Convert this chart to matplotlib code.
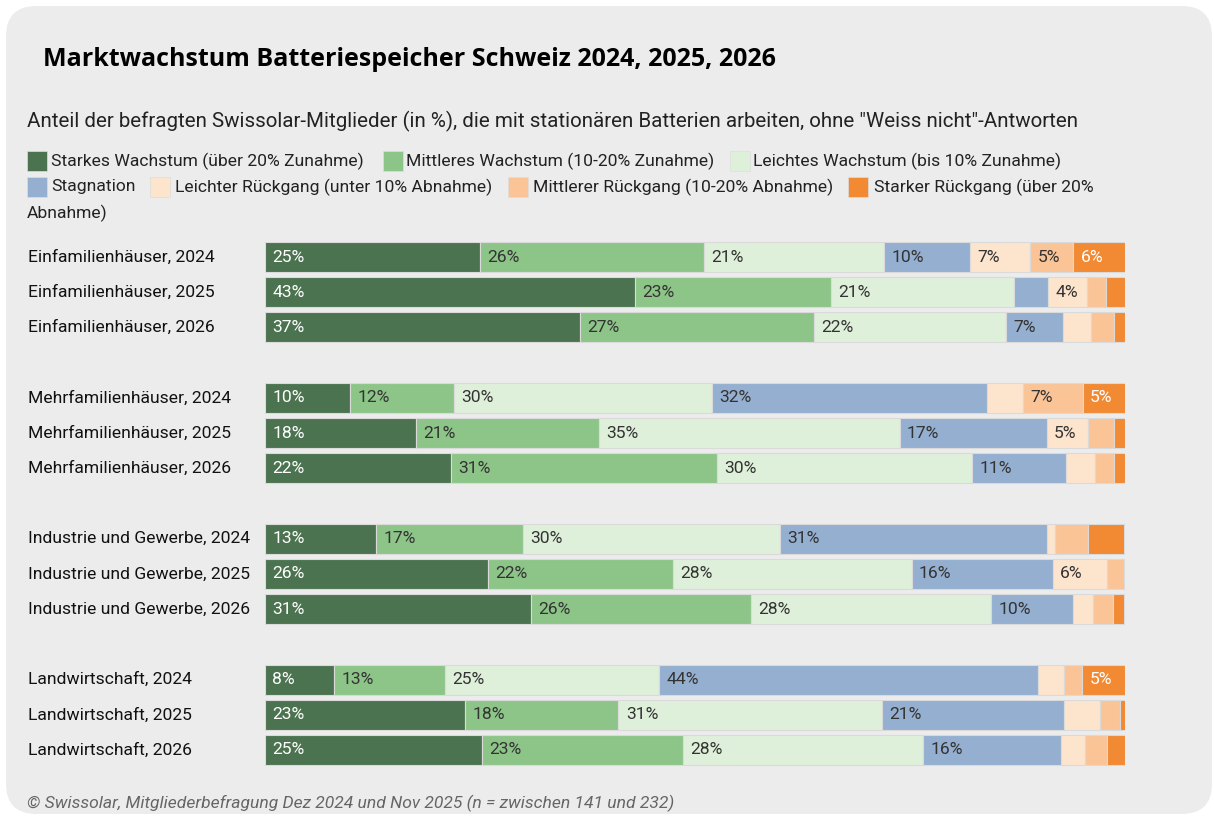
import numpy as np
import matplotlib.pyplot as plt
from matplotlib.patches import FancyBboxPatch, Rectangle

# categories (top to bottom)
rows = [
    "Einfamilienhäuser, 2024", "Einfamilienhäuser, 2025", "Einfamilienhäuser, 2026",
    "Mehrfamilienhäuser, 2024", "Mehrfamilienhäuser, 2025", "Mehrfamilienhäuser, 2026",
    "Industrie und Gewerbe, 2024", "Industrie und Gewerbe, 2025", "Industrie und Gewerbe, 2026",
    "Landwirtschaft, 2024", "Landwirtschaft, 2025", "Landwirtschaft, 2026",
]
series = [
    "Starkes Wachstum (über 20% Zunahme)",
    "Mittleres Wachstum (10-20% Zunahme)",
    "Leichtes Wachstum (bis 10% Zunahme)",
    "Stagnation",
    "Leichter Rückgang (unter 10% Abnahme)",
    "Mittlerer Rückgang (10-20% Abnahme)",
    "Starker Rückgang (über 20% Abnahme)",
]
starkes_wachstum = [25.0, 43.0, 36.6, 9.9, 17.6, 21.6, 12.9, 25.9, 30.9, 8.0, 23.3, 25.2]
mittleres_wachstum = [26.0, 22.8, 27.2, 12.1, 21.2, 30.9, 17.1, 21.5, 25.6, 12.9, 17.8, 23.4]
leichtes_wachstum = [21.0, 21.3, 22.4, 30.0, 35.0, 29.7, 29.9, 27.8, 27.9, 24.9, 30.6, 27.9]
stagnation = [10.0, 4.0, 6.6, 32.0, 17.1, 10.9, 31.0, 16.4, 9.5, 44.1, 21.2, 16.0]
leichter_rueckgang = [7.0, 4.5, 3.3, 4.1, 4.8, 3.4, 1.0, 6.3, 2.4, 3.0, 4.2, 2.8]
mittlerer_rueckgang = [5.0, 2.2, 2.6, 7.0, 3.0, 2.2, 3.8, 2.0, 2.3, 2.1, 2.3, 2.6]
starker_rueckgang = [6.0, 2.2, 1.3, 5.0, 1.3, 1.3, 4.2, 0.0, 1.3, 5.0, 0.7, 2.1]

colors = ["#4c7350", "#8dc588", "#dff0da", "#94afd0", "#fde4cd", "#fbc497", "#f28933"]
text_colors = ["white", "#333333", "#333333", "#333333", "#333333", "#333333", "white"]

plt.rcParams['font.family'] = ['Roboto', 'DejaVu Sans']

W, H = 1214, 816
fig = plt.figure(figsize=(W / 100, H / 100), dpi=100)
fig.patch.set_facecolor("white")

# rounded grey panel behind everything
panel = FancyBboxPatch((6 / W, 1 - 814 / H), 1206 / W, 808 / H,
                       boxstyle="round,pad=0,rounding_size=0.025",
                       transform=fig.transFigure, facecolor="#ececec",
                       edgecolor="none", mutation_aspect=W / H, zorder=-10)
fig.patches.append(panel)

def fx(px):
    return px / W

def fy(py):
    return 1 - py / H

fig.text(fx(43), fy(60), "Marktwachstum Batteriespeicher Schweiz 2024, 2025, 2026",
         fontsize=18, fontweight="bold", family=["Open Sans", "DejaVu Sans"],
         va="center", ha="left", color="black")
fig.text(fx(27), fy(121), 'Anteil der befragten Swissolar-Mitglieder (in %), die mit stationären Batterien arbeiten, ohne "Weiss nicht"-Antworten',
         fontsize=14.8, va="center", ha="left", color="#222222")

# legend, laid out like the original (wrapping)
legend_pos = [(27, 51, 161), (383, 406, 161), (730, 753, 161),
              (27, 51, 187), (150, 175, 187), (508, 533, 187), (848, 874, 187)]
for i, (name, (px, tx, py)) in enumerate(zip(series, legend_pos)):
    fig.patches.append(Rectangle((fx(px), fy(py + 10)), 20 / W, 20 / H,
                                 transform=fig.transFigure, facecolor=colors[i],
                                 edgecolor="#dddddd", linewidth=0.5))
    label = name
    if i == 6:
        label = "Starker Rückgang (über 20%"
    fig.text(fx(tx), fy(py), label, fontsize=12.6, va="center", ha="left", color="#222222")
fig.text(fx(27), fy(213), "Abnahme)", fontsize=12.6, va="center", ha="left", color="#222222")

# bars
data = np.array([starkes_wachstum, mittleres_wachstum, leichtes_wachstum, stagnation,
                 leichter_rueckgang, mittlerer_rueckgang, starker_rueckgang])
ypos = np.array([g * 4 + r for g in range(4) for r in range(3)])

ax_bottom = fy(767.6)
ax = fig.add_axes([fx(265), ax_bottom, fx(1125) - fx(265), fy(239.4) - ax_bottom])
ax.set_xlim(0, 100)
ax.set_ylim(14.5, -0.5)
ax.axis("off")

left = np.zeros(len(rows))
for i in range(len(series)):
    ax.barh(ypos, data[i], left=left, height=0.85, color=colors[i],
            edgecolor="#dadada", linewidth=0.8)
    for y, l, v in zip(ypos, left, data[i]):
        if v >= 4.4:
            ax.text(l + 0.85, y, f"{v:.0f}%", va="center", ha="left",
                    fontsize=12.6, color=text_colors[i])
    left += data[i]

for y, name in zip(ypos, rows):
    ax.text(-27.55, y, name, va="center", ha="left", fontsize=12.6, color="#111111",
            clip_on=False)

fig.text(fx(27), fy(803), "© Swissolar, Mitgliederbefragung Dez 2024 und Nov 2025 (n = zwischen 141 und 232)",
         fontsize=12.6, style="italic", va="center", ha="left", color="#666666")

fig.savefig("out.png", dpi=100, facecolor=fig.get_facecolor())
